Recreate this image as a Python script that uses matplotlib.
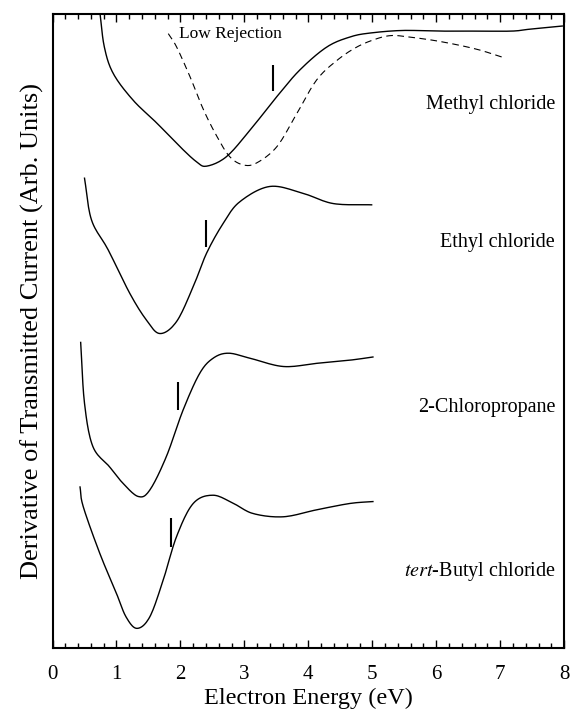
import numpy as np
import matplotlib
matplotlib.use("Agg")
import matplotlib.pyplot as plt
import matplotlib.ticker as ticker

plt.rcParams["font.family"] = ["Liberation Serif", "DejaVu Serif"]
plt.rcParams["mathtext.fontset"] = "stix"

# electron energy (eV) and derivative signal (arb. units, offset per molecule)
methyl_x = [0.74, 0.81, 0.95, 1.26, 1.63, 1.99, 2.25, 2.41, 2.72, 3.09, 3.51,
            3.87, 4.29, 4.66, 4.97, 5.47, 6.04, 6.61, 7.18, 7.46, 7.97]
methyl_y = [100.3, 94.8, 90.6, 86.4, 82.8, 79.1, 76.7, 76.0, 77.5, 81.7, 87.0,
            91.2, 94.8, 96.4, 97.0, 97.4, 97.3, 97.3, 97.3, 97.6, 98.1]

lowrej_x = [1.81, 1.94, 2.15, 2.36, 2.57, 2.77, 2.98, 3.19, 3.51, 3.82, 4.13,
            4.45, 4.76, 5.07, 5.30, 5.55, 6.04, 6.61, 7.03]
lowrej_y = [96.9, 94.8, 90.1, 84.9, 80.7, 77.5, 76.2, 76.5, 79.1, 84.3, 89.6,
            92.7, 94.8, 96.1, 96.6, 96.4, 95.7, 94.5, 93.2]

ethyl_x = [0.50, 0.61, 0.87, 1.21, 1.47, 1.68, 1.94, 2.20, 2.41, 2.67, 2.93,
           3.40, 3.92, 4.39, 4.99]
ethyl_y = [74.1, 67.5, 62.8, 55.9, 51.7, 49.6, 51.5, 57.0, 62.3, 67.0, 70.4,
           72.8, 71.7, 70.1, 69.9]

chloroprop_x = [0.44, 0.50, 0.63, 0.89, 1.10, 1.34, 1.52, 1.78, 2.04, 2.30,
                2.51, 2.75, 3.09, 3.61, 4.13, 4.65, 5.01]
chloroprop_y = [48.2, 38.6, 31.8, 28.6, 26.0, 23.9, 24.9, 30.2, 37.5, 43.3,
                45.7, 46.5, 45.7, 44.4, 44.9, 45.4, 45.9]

tbutyl_x = [0.43, 0.48, 0.74, 1.00, 1.15, 1.32, 1.52, 1.73, 1.94, 2.20, 2.51,
            2.83, 3.14, 3.61, 4.13, 4.65, 5.01]
tbutyl_y = [25.4, 22.3, 14.9, 8.6, 4.9, 3.1, 4.9, 10.7, 17.6, 22.8, 24.1,
            22.8, 21.2, 20.7, 21.8, 22.8, 23.1]

# resonance position markers: energy, lower and upper signal
marker_x = [3.44, 2.40, 1.96, 1.86]
marker_lo = [87.8, 63.3, 37.6, 16.0]
marker_hi = [92.0, 67.5, 42.0, 20.5]

names = ["Methyl chloride", "Ethyl chloride", "2-Chloropropane",
         "$\\it{tert}$-Butyl chloride"]
name_y = [85.8, 63.9, 37.9, 12.0]


def catmull_rom(x, y, n=12):
    """Smooth a polyline through the given points."""
    p = np.column_stack([x, y]).astype(float)
    p = np.vstack([2 * p[0] - p[1], p, 2 * p[-1] - p[-2]])
    out = []
    t = np.linspace(0, 1, n, endpoint=False)[:, None]
    for i in range(1, len(p) - 2):
        p0, p1, p2, p3 = p[i - 1], p[i], p[i + 1], p[i + 2]
        seg = 0.5 * ((2 * p1) + (-p0 + p2) * t
                     + (2 * p0 - 5 * p1 + 4 * p2 - p3) * t ** 2
                     + (-p0 + 3 * p1 - 3 * p2 + p3) * t ** 3)
        out.append(seg)
    out.append(p[-2][None, :])
    out = np.vstack(out)
    return out[:, 0], out[:, 1]


fig = plt.figure(figsize=(5.71, 7.17), dpi=100)
ax = fig.add_axes([0.092, 0.0962, 0.896, 0.8843])

for xs, ys in [(methyl_x, methyl_y), (ethyl_x, ethyl_y),
               (chloroprop_x, chloroprop_y), (tbutyl_x, tbutyl_y)]:
    sx, sy = catmull_rom(xs, ys)
    ax.plot(sx, sy, color="black", lw=1.0)

sx, sy = catmull_rom(lowrej_x, lowrej_y)
ax.plot(sx, sy, color="black", lw=0.8, dashes=(6, 4))
ax.text(1.98, 96.8, "Low Rejection", fontsize=12.5, va="center", ha="left")

ax.vlines(marker_x, marker_lo, marker_hi, color="black", lw=1.5)

for name, yy in zip(names, name_y):
    ax.text(7.86, yy, name, fontsize=14.5, ha="right", va="center")

ax.set_xlim(0, 8)
ax.set_ylim(0, 100)
ax.xaxis.set_major_locator(ticker.MultipleLocator(1))
ax.xaxis.set_minor_locator(ticker.MultipleLocator(0.2))
ax.set_yticks([])
ax.tick_params(axis="x", which="both", direction="in", top=True,
               labelsize=15, width=1.0, pad=12)
ax.tick_params(axis="x", which="major", length=6)
ax.tick_params(axis="x", which="minor", length=3.5)
for sp in ax.spines.values():
    sp.set_linewidth(1.5)

ax.set_xlabel("Electron Energy (eV)", fontsize=17.5, labelpad=3)
ax.set_ylabel("Derivative of Transmitted Current (Arb. Units)", fontsize=19,
              labelpad=6)

fig.savefig("out.png", dpi=100)
